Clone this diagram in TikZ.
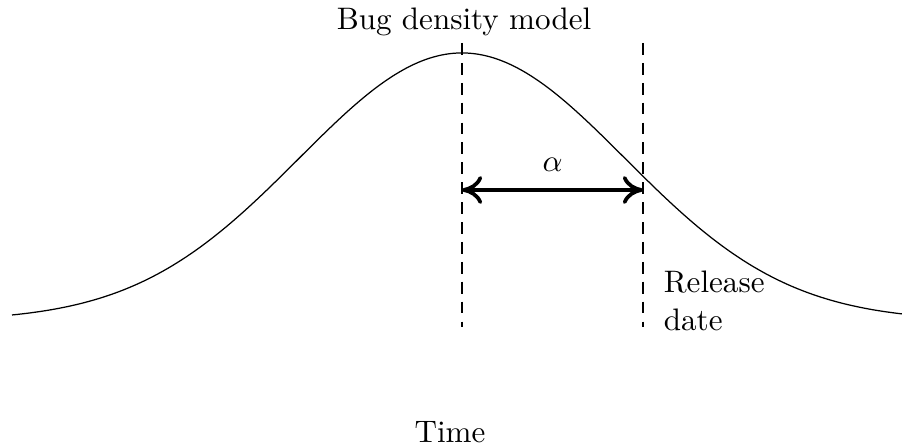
\documentclass[tikz,border=0pt]{standalone}
\usetikzlibrary{arrows.meta,positioning}
\tikzset{
  guide/.style={dash pattern=on 3.8pt off 2.6pt,line width=0.4pt},
  span/.style={{To[length=6.5pt,width=9pt]}-{To[length=6.5pt,width=9pt]},very thick},
  lab/.style={align=left,inner sep=2pt},
}
\begin{document}
\begin{tikzpicture}[x=0.0113cm,y=-0.0113cm]
\useasboundingbox (0,0) rectangle (902,448);
% density curve
\draw[line width=0.4pt] plot[domain=12:902,samples=150,smooth]
  (\x,{320.9-267.9*exp(-0.5*((\x-462)/163)^2)});
\coordinate (peaktop) at (462,43);
\coordinate (peakbot) at (462,327);
\coordinate (reltop) at (643,43);
\coordinate (relbot) at (643,327);
\draw[guide] (peaktop)--(peakbot);
\draw[guide] (reltop)--(relbot);
\coordinate (a1) at (462,190);
\coordinate (a2) at (643,190);
\draw[span] (a1)--(a2) node[midway,above=2pt] (alpha) {$\alpha$};
\node (title) at (464,22) {Bug density model};
\node[lab,anchor=west] (release) at (657,301) {Release\\date};
\node (time) at (450,432) {Time};
\end{tikzpicture}
\end{document}
